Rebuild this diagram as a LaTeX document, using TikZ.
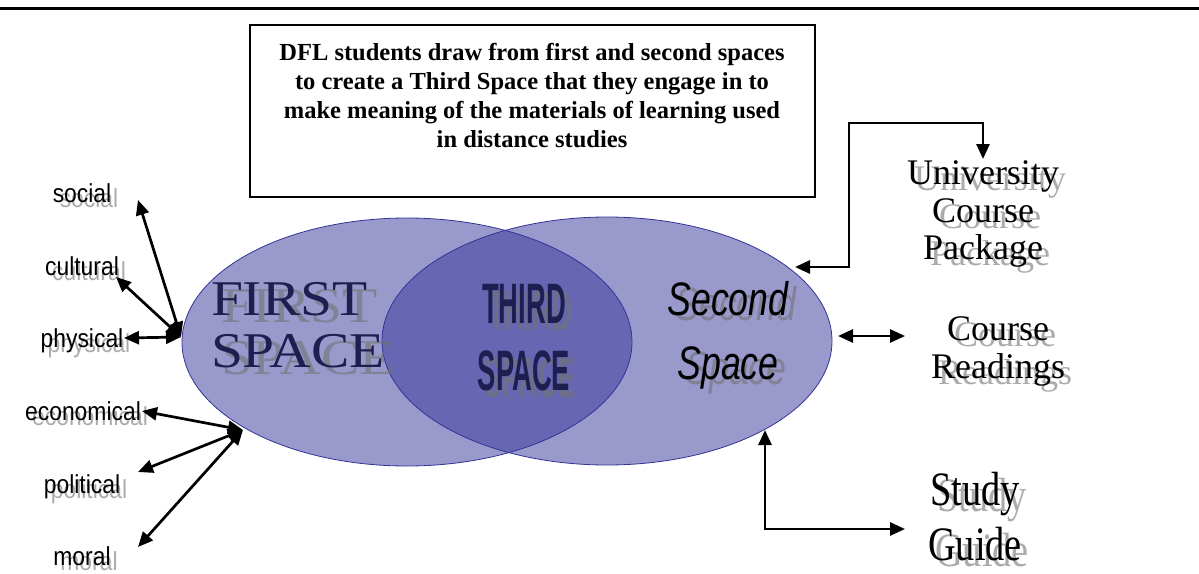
\documentclass[tikz,border=0pt]{standalone}
\usepackage{fontspec}
\setmainfont{Liberation Serif}
\newfontfamily\labelfont[FakeStretch=0.88]{Liberation Sans}
\newfontfamily\firstfont[FakeStretch=1.15]{Liberation Serif}
\newfontfamily\thirdfont[FakeStretch=0.48]{Liberation Sans}
\newfontfamily\secondfont[FakeStretch=0.76]{Liberation Sans}
\newfontfamily\guidefont[FakeStretch=0.8]{Liberation Serif}
\usetikzlibrary{arrows.meta, calc}

\definecolor{spacefill}{RGB}{153,153,204}
\definecolor{thirdfill}{RGB}{102,102,178}
\definecolor{spaceline}{RGB}{51,51,153}
\definecolor{navytext}{RGB}{30,30,80}

\begin{document}
\begin{tikzpicture}[%
        x = 1pt, y = -1pt,
        > = {Triangle[length = 15pt, width = 13pt]},
        link/.style = {<->, line width = 2.7pt},
        ghost/.style = {text = black!55, text opacity = 0.6},
        every node/.style = {inner sep = 0pt, outer sep = 0pt},
        label/.style = {font = \labelfont\fontsize{26}{28}\selectfont, anchor = base},
        first/.style = {font = \firstfont\fontsize{50}{52}\selectfont, text = navytext, align = left, anchor = north west},
        third/.style = {font = \thirdfont\bfseries\fontsize{57}{67}\selectfont, text = navytext, align = center, anchor = north},
        second/.style = {font = \secondfont\itshape\fontsize{47}{64}\selectfont, align = center, anchor = north},
        material/.style = {font = \fontsize{36}{37.5}\selectfont, align = center, anchor = north},
        guide/.style = {font = \guidefont\fontsize{48}{55}\selectfont, align = center, anchor = north}
    ]

    \useasboundingbox (0,0) rectangle (1199,573);

    % Text with a grey shadow: style, name, position, shadow offset, text.
    \newcommand{\shtext}[5]{%
        \node[#1, ghost] (#2-s) at ($(#3)+(#4)$) {#5};
        \node[#1] (#2) at (#3) {#5};
    }

    % Rule across the top.
    \draw[line width = 3pt] (0,8) -- (1199,8);

    % Caption box.
    \draw[line width = 1.2pt] (250,25) rectangle (815,197);
    \node[font = \bfseries\fontsize{24.5}{29}\selectfont, align = center, anchor = north]
        (caption) at (532,43)
        {DFL students draw from first and second spaces\\
         to create a Third Space that they engage in to\\
         make meaning of the materials of learning used\\
         in distance studies};

    % coordinates
    \coordinate (L) at (407,342); % Centre of first space.
    \coordinate (R) at (607,341); % Centre of second space.

    % The two spaces and their overlap.
    \fill[spacefill] (L) ellipse [x radius = 225, y radius = 124];
    \fill[spacefill] (R) ellipse [x radius = 225, y radius = 124];
    \begin{scope}
        \clip (L) ellipse [x radius = 225, y radius = 124];
        \fill[thirdfill] (R) ellipse [x radius = 225, y radius = 124];
    \end{scope}
    \begin{scope}[spaceline, line width = 0.8pt]
        \draw (L) ellipse [x radius = 225, y radius = 124];
        \draw (R) ellipse [x radius = 225, y radius = 124];
    \end{scope}

    % Names of the spaces.
    \shtext{first}{firstspace}{211,282}{10,7}{FIRST\\SPACE}
    \shtext{third}{thirdspace}{524,284}{6,7}{THIRD\\SPACE}
    \shtext{second}{secondspace}{728,281}{8,5}{Second\\Space}

    % Labels on the left.
    \shtext{label}{social}{82,202}{7,5}{social}
    \shtext{label}{cultural}{82,275}{7,5}{cultural}
    \shtext{label}{physical}{82,347}{7,5}{physical}
    \shtext{label}{economical}{83,420}{7,5}{economical}
    \shtext{label}{political}{82,493}{7,5}{political}
    \shtext{label}{moral}{82,565}{7,5}{moral}

    % Materials on the right.
    \shtext{material}{package}{983,161}{7,6}{University\\Course\\Package}
    \shtext{material}{readings}{998,317}{7,6}{Course\\Readings}
    \shtext{guide}{studyguide}{975,472}{7,6}{Study\\Guide}

    % Arrow ends.
    \coordinate (hubA) at (181,337);
    \coordinate (hubB) at (243,430);
    \coordinate (social-end) at (138,200);
    \coordinate (cultural-end) at (116,277);
    \coordinate (physical-end) at (124,338);
    \coordinate (economical-end) at (142,411);
    \coordinate (political-end) at (138,472);
    \coordinate (moral-end) at (138,547);
    \coordinate (package-in) at (795,267);
    \coordinate (package-bend) at (849,123);
    \coordinate (readings-in) at (838,336);
    \coordinate (readings-end) at (905,336);
    \coordinate (guide-in) at (765,430);
    \coordinate (guide-end) at (905,529);

    % Arrows from the first space.
    \foreach \n in {social, cultural, physical}
        \draw[link] (hubA) -- (\n-end);
    \foreach \n in {economical, political, moral}
        \draw[link] (hubB) -- (\n-end);

    % Arrows from the second space.
    \draw[link] (package-in) -| (package-bend) -| ([yshift = 2pt]package.north);
    \draw[link] (readings-in) -- (readings-end);
    \draw[link] (guide-in) |- (guide-end);
\end{tikzpicture}
\end{document}
